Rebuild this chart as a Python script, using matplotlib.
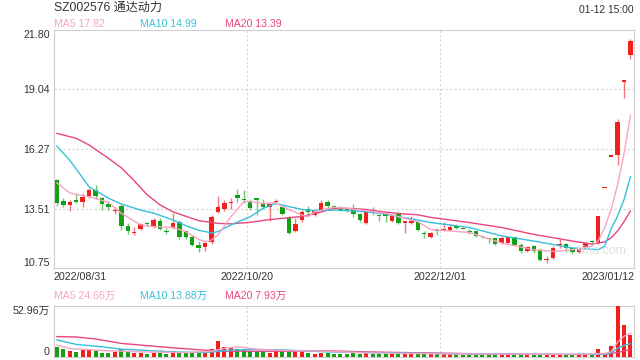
import numpy as np
import matplotlib
matplotlib.use("Agg")
import matplotlib.pyplot as plt
import matplotlib.transforms as mtransforms

plt.rcParams['font.family'] = ['Liberation Sans', 'Noto Sans CJK SC']

# Данные свечей (индекс 0 = 2022/08/31, 89 = 2023/01/12)
opens = [14.84, 13.88, 13.66, 13.86, 13.83, 14.10, 14.37, 14.00, 13.72, 13.40,
         13.63, 12.70, 12.38, 12.55, 12.80, 12.67, 12.95, 12.45, 12.60, 12.90,
         12.45, 12.20, 11.82, 11.73, 11.97, 13.37, 13.47, 13.76, 14.15, 13.92,
         13.82, 13.95, 13.75, 13.58, 13.82, 13.60, 13.08, 12.48, 12.98, 13.48,
         13.21, 13.44, 13.80, 13.62, 13.55, 13.46, 13.52, 13.26, 12.85, 13.34,
         13.18, 13.26, 12.95, 13.26, 12.85, 12.86, 12.90, 12.35, 12.18, 12.48,
         12.50, 12.50, 12.66, 12.60, 12.46, 12.45, 12.20, 12.12, 12.12, 11.92,
         11.92, 12.18, 11.84, 11.55, 11.78, 11.60, 11.12, 11.20, 11.82, 11.86,
         11.68, 11.48, 11.68, 11.97, 11.92, 14.47, 15.92, 15.98, 19.40, 20.64]
highs = [14.90, 13.98, 13.90, 14.20, 14.25, 14.45, 14.60, 14.05, 13.85, 13.60,
         13.70, 12.85, 12.67, 12.85, 12.90, 13.05, 13.05, 12.60, 13.30, 13.00,
         12.50, 12.30, 12.00, 11.98, 13.20, 14.09, 13.90, 14.00, 14.40, 14.35,
         13.95, 14.00, 13.95, 13.75, 13.95, 13.65, 13.15, 13.05, 13.45, 13.65,
         13.48, 13.90, 13.92, 13.68, 13.65, 13.52, 13.72, 13.32, 13.42, 13.57,
         13.26, 13.28, 13.20, 13.35, 12.90, 13.15, 12.95, 12.45, 12.42, 12.62,
         12.90, 12.80, 12.80, 12.65, 12.58, 12.48, 12.30, 12.13, 12.15, 12.18,
         12.20, 12.20, 11.90, 11.78, 11.82, 11.70, 11.30, 11.75, 12.10, 11.92,
         11.72, 11.68, 11.95, 12.05, 13.15, 14.47, 15.92, 17.65, 19.43, 21.37]
lows = [13.62, 13.60, 13.40, 13.75, 13.60, 14.00, 13.95, 13.45, 13.45, 13.25,
        12.50, 12.35, 12.28, 12.50, 12.68, 12.62, 12.50, 12.35, 12.55, 12.10,
        12.08, 11.75, 11.50, 11.55, 11.85, 13.32, 13.40, 13.50, 13.80, 13.78,
        13.45, 13.20, 13.50, 12.95, 13.75, 13.20, 12.35, 12.42, 12.90, 13.20,
        13.15, 13.40, 13.55, 13.48, 13.40, 13.36, 13.13, 12.90, 12.80, 13.21,
        12.95, 12.90, 12.90, 12.80, 12.38, 12.80, 12.45, 12.15, 12.12, 12.30,
        12.45, 12.45, 12.55, 12.55, 12.35, 12.20, 12.12, 11.90, 11.82, 11.85,
        11.90, 11.80, 11.45, 11.48, 11.45, 11.08, 10.98, 11.15, 11.70, 11.50,
        11.40, 11.45, 11.65, 11.88, 11.85, 14.47, 15.92, 15.53, 18.64, 20.44]
closes = [13.75, 13.68, 13.83, 13.83, 14.03, 14.37, 14.10, 13.72, 13.60, 13.46,
          12.70, 12.45, 12.42, 12.80, 12.78, 12.98, 12.55, 12.42, 12.85, 12.20,
          12.17, 11.82, 11.66, 11.93, 13.13, 13.60, 13.78, 13.83, 14.00, 13.90,
          13.54, 13.92, 13.57, 13.70, 13.87, 13.26, 12.39, 12.80, 13.34, 13.34,
          13.41, 13.78, 13.63, 13.58, 13.44, 13.44, 13.26, 12.98, 13.37, 13.31,
          13.15, 13.16, 13.16, 12.85, 12.88, 12.90, 12.52, 12.33, 12.38, 12.45,
          12.53, 12.67, 12.63, 12.57, 12.43, 12.23, 12.18, 12.10, 11.86, 12.12,
          12.18, 11.84, 11.55, 11.71, 11.52, 11.13, 11.15, 11.70, 11.86, 11.68,
          11.47, 11.63, 11.90, 11.95, 13.15, 14.47, 15.92, 17.55, 19.43, 21.29]

# Объём, 万 手
volumes = [10.6, 8.1, 6.0, 5.3, 7.1, 8.1, 6.0, 4.6, 4.6, 5.3,
           7.8, 5.3, 4.6, 4.6, 3.5, 4.2, 4.2, 3.5, 6.4, 4.9,
           4.6, 4.2, 3.9, 4.2, 7.8, 16.9, 10.6, 9.2, 8.8, 8.1,
           6.4, 6.0, 6.0, 4.6, 6.4, 6.0, 6.4, 6.0, 6.0, 4.6,
           3.5, 4.6, 4.6, 3.5, 3.5, 3.2, 3.9, 3.5, 3.9, 3.2,
           3.0, 3.2, 3.0, 3.5, 3.2, 3.0, 3.5, 3.0, 2.8, 2.7,
           3.0, 3.0, 2.6, 2.5, 2.6, 2.8, 2.5, 2.6, 2.8, 2.6,
           2.7, 2.6, 3.0, 2.5, 2.7, 3.4, 2.6, 3.0, 2.6, 2.5,
           2.6, 2.4, 2.6, 2.4, 7.8, 3.0, 11.6, 52.96, 32.8, 22.9]

# Скользящие средние цены (индекс, значение)
ma5_idx = [0, 2, 5, 8, 10, 13, 15, 18, 20, 22, 23, 24, 25, 27, 29, 30, 32, 34, 35, 38,
           39, 40, 43, 45, 48, 51, 53, 56, 58, 64, 69, 74, 77, 80, 83, 84, 85, 86, 87, 88, 89]
ma5_val = [14.70, 14.23, 14.06, 13.80, 13.29, 12.75, 12.67, 12.63, 12.44, 12.08, 11.97, 12.05,
           12.28, 13.13, 13.83, 13.83, 13.75, 13.78, 13.60, 13.21, 13.13, 13.36, 13.57, 13.52,
           13.41, 13.29, 13.13, 12.90, 12.54, 12.40, 11.91, 11.60, 11.52, 11.60, 11.76, 12.02,
           12.62, 13.48, 14.60, 16.06, 17.82]
ma10_idx = [0, 2, 5, 8, 10, 13, 15, 18, 20, 22, 24, 25, 27, 30, 32, 34, 35, 38, 40, 43,
            45, 48, 51, 53, 56, 58, 64, 69, 74, 80, 84, 85, 86, 87, 88, 89]
ma10_val = [16.41, 15.75, 14.52, 13.99, 13.72, 13.44, 13.30, 12.98, 12.72, 12.50, 12.38, 12.44,
            12.75, 13.13, 13.52, 13.75, 13.67, 13.47, 13.41, 13.44, 13.41, 13.36, 13.26, 13.13,
            12.98, 12.86, 12.63, 12.24, 12.00, 11.68, 11.60, 11.76, 12.57, 13.16, 13.92, 14.99]
ma20_idx = [0, 3, 5, 8, 10, 12, 14, 16, 18, 20, 22, 25, 27, 30, 32, 35, 38, 40, 43, 45,
            48, 50, 53, 56, 58, 64, 69, 74, 80, 83, 85, 86, 87, 88, 89]
ma20_val = [17.00, 16.77, 16.46, 15.84, 15.40, 14.80, 14.15, 13.68, 13.36, 13.15, 12.95, 12.82,
            12.80, 12.87, 12.96, 13.06, 13.14, 13.27, 13.52, 13.52, 13.47, 13.38, 13.28, 13.22,
            13.10, 12.86, 12.63, 12.31, 12.00, 11.86, 11.96, 12.15, 12.47, 12.90, 13.39]

# Скользящие средние объёма
vma5_idx = [0, 2, 7, 13, 20, 24, 26, 28, 31, 35, 42, 48, 61, 80, 83, 84, 85, 86, 87, 88, 89]
vma5_val = [12.4, 8.8, 6.7, 5.3, 4.6, 6.0, 9.0, 10.6, 8.1, 6.7, 6.0, 4.2, 3.2, 2.8, 3.0,
            3.56, 3.64, 5.48, 15.55, 21.63, 24.66]
vma10_idx = [0, 3, 7, 10, 13, 18, 23, 27, 30, 35, 42, 48, 61, 73, 84, 85, 86, 87, 88, 89]
vma10_val = [17.7, 13.1, 10.6, 8.1, 7.1, 5.3, 4.6, 7.1, 7.8, 7.4, 5.3, 4.6, 3.5, 2.8, 2.9,
             3.0, 4.05, 9.05, 12.07, 13.88]
vma20_idx = [0, 3, 6, 10, 13, 18, 23, 27, 36, 42, 48, 54, 67, 80, 85, 87, 88, 89]
vma20_val = [21.2, 20.8, 18.7, 14.1, 12.4, 9.5, 7.1, 6.0, 6.0, 6.4, 5.3, 4.6, 3.2, 2.5,
             2.8, 4.6, 6.2, 7.93]

date_labels = ['2022/08/31', '2022/10/20', '2022/12/01', '2023/01/12']
date_pos = [0, 30, 60, 89]
price_ticks = [21.80, 19.04, 16.27, 13.51, 10.75]

RED = '#f2201c'
GREEN = '#14a014'
C_MA5 = '#f8a4c4'
C_MA10 = '#36c0de'
C_MA20 = '#e9457f'
GRID = '#d4d4d4'
BORDER = '#cfcfcf'
TXT = '#333333'

W, H = 640, 360
fig = plt.figure(figsize=(W / 100, H / 100), dpi=100)

def rect(left, top, right, bottom):
    return [left / W, 1 - bottom / H, (right - left) / W, (bottom - top) / H]

ax = fig.add_axes(rect(54, 30, 634, 268))
axv = fig.add_axes(rect(54, 306, 634, 357))

x = np.arange(len(closes))
o = np.array(opens)
c = np.array(closes)
up = c >= o
colors = np.where(up, RED, GREEN)

# Свечи
ax.vlines(x, lows, highs, colors=colors, lw=1.0, alpha=0.6, zorder=3)
body_low = np.minimum(o, c)
body_h = np.maximum(np.abs(c - o), 0.06)
ax.bar(x, body_h, bottom=body_low, width=0.7, color=colors, zorder=4, linewidth=0)

ax.plot(ma20_idx, ma20_val, color=C_MA20, lw=1.0, zorder=5)
ax.plot(ma10_idx, ma10_val, color=C_MA10, lw=1.0, zorder=5)
ax.plot(ma5_idx, ma5_val, color=C_MA5, lw=1.0, zorder=5)

# водяной знак
fig.text(627 / W, 1 - 251 / H, 'sina.com', fontsize=9, color='#e0e0e0',
         ha='right', va='center', zorder=0)

ax.set_xlim(-0.45, 89.55)
ax.set_ylim(10.75, 21.80)
ax.patch.set_alpha(0)
for v in price_ticks[1:-1]:
    ax.axhline(v, color=GRID, lw=0.8, ls=(0, (2, 2)), zorder=1)
for p in [29.5, 59.5]:
    ax.axvline(p, color=GRID, lw=0.8, ls=(0, (2, 2)), zorder=1)
    axv.axvline(p, color=GRID, lw=0.8, ls=(0, (2, 2)), zorder=1)

ax.set_yticks(price_ticks)
ax.set_yticklabels(['%.2f' % v for v in price_ticks])
ax.tick_params(axis='y', length=0, pad=3, labelsize=7.7, labelcolor=TXT)
ax.set_xticks([])
labs = ax.get_yticklabels()
labs[0].set_va('top')
labs[-1].set_va('bottom')

# Объём
axv.bar(x, volumes, width=0.62, color=colors, linewidth=0, zorder=3)
axv.plot(vma20_idx, vma20_val, color=C_MA20, lw=1.0, zorder=4)
axv.plot(vma10_idx, vma10_val, color=C_MA10, lw=1.0, zorder=4)
axv.plot(vma5_idx, vma5_val, color=C_MA5, lw=1.0, zorder=4)
axv.set_xlim(-0.45, 89.55)
axv.set_ylim(0, 52.96)
axv.set_xticks([])
axv.set_yticks([0, 52.96])
axv.set_yticklabels(['0', '52.96万'])
axv.tick_params(axis='y', length=0, pad=3, labelsize=7.7, labelcolor=TXT)
vl = axv.get_yticklabels()
vl[0].set_va('bottom')
vl[1].set_va('top')

for a in (ax, axv):
    for s in a.spines.values():
        s.set_color(BORDER)
        s.set_linewidth(0.8)

# Подписи дат
trans = mtransforms.blended_transform_factory(ax.transData, fig.transFigure)
aligns = ['left', 'center', 'center', 'right']
for lab, p, ha in zip(date_labels, date_pos, aligns):
    if ha == 'left':
        xp = -0.45
    elif ha == 'right':
        xp = 89.55
    else:
        xp = p - 0.5
    ax.text(xp, 1 - 277 / H, lab, transform=trans, ha=ha, va='center',
            fontsize=7.7, color=TXT)

# Заголовок и легенды
fig.text(54 / W, 1 - 8 / H, 'SZ002576 通达动力', fontsize=8.7, color=TXT, va='center')
fig.text(634 / W, 1 - 10 / H, '01-12 15:00', fontsize=7.4, color=TXT, va='center', ha='right')
fig.text(54 / W, 1 - 24 / H, 'MA5 17.82', fontsize=7.6, color=C_MA5, va='center')
fig.text(140 / W, 1 - 24 / H, 'MA10 14.99', fontsize=7.6, color=C_MA10, va='center')
fig.text(225 / W, 1 - 24 / H, 'MA20 13.39', fontsize=7.6, color=C_MA20, va='center')
fig.text(54 / W, 1 - 296 / H, 'MA5 24.66万', fontsize=7.6, color=C_MA5, va='center')
fig.text(140 / W, 1 - 296 / H, 'MA10 13.88万', fontsize=7.6, color=C_MA10, va='center')
fig.text(225 / W, 1 - 296 / H, 'MA20 7.93万', fontsize=7.6, color=C_MA20, va='center')

fig.savefig('out.png', dpi=100)
